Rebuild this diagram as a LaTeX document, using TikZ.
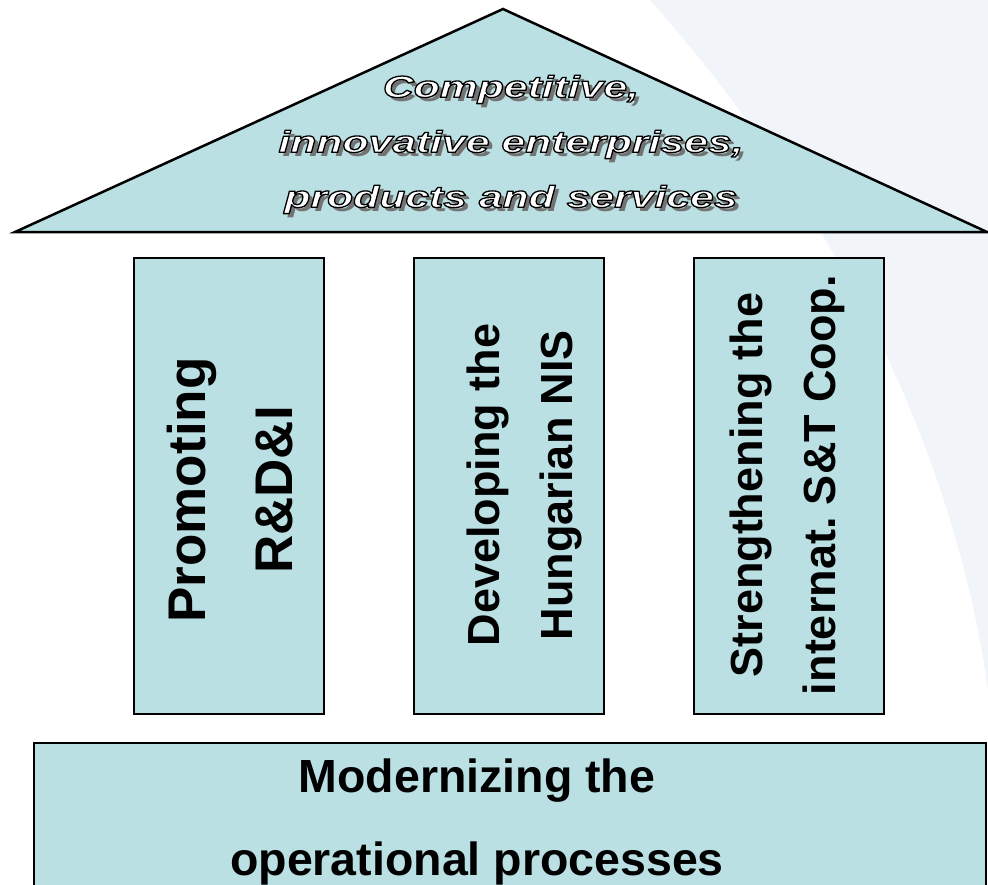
\documentclass[tikz,border=0pt]{standalone}
\usepackage{fontspec}
\setmainfont{Liberation Sans}
\newfontfamily\rooffont[FakeStretch=1.4]{Liberation Sans}
\usepackage{xcolor}
\usepackage{tikz}
\usetikzlibrary{positioning, calc}

\definecolor{pillarfill}{RGB}{186,224,227}
\definecolor{swoosh}{RGB}{241,245,249}
\definecolor{shadowgray}{RGB}{115,115,115}

% white letters with a black rim
\newcommand\outlined[1]{\special{pdf:literal direct 0 G 1 j 1.3 w 2 Tr}#1\special{pdf:literal direct 0 Tr 1 w 0 j}}

\begin{document}
\begin{tikzpicture}[x=1pt, y=-1pt]
\tikzstyle{pillar} = [rectangle, draw=black, line width=2pt, fill=pillarfill, minimum width=190pt, minimum height=456pt, inner sep=0pt]
\tikzstyle{pillartext} = [rotate=90, align=center, inner sep=0pt, font=\bfseries\fontsize{45}{73}\selectfont]
\tikzstyle{rooftext} = [align=center, anchor=north, inner sep=0pt, font=\rooffont\bfseries\itshape\fontsize{30.5}{55}\selectfont]
\tikzstyle{basetext} = [align=center, anchor=north, inner sep=0pt, font=\bfseries\fontsize{46.5}{83}\selectfont]

\useasboundingbox (0,0) rectangle (988,884);

% Background
\fill[swoosh] (650,0) .. controls (810,180) and (950,420) .. (988,690) -- (988,0) -- cycle;

% Roof
\coordinate (eaveL) at (15,232);
\coordinate (apex) at (503,9);
\coordinate (eaveR) at (987,232);
\draw[line width=2.5pt, fill=pillarfill] (eaveL) -- (apex) -- (eaveR) -- cycle;
\node[rooftext, text=shadowgray] (roofshadow) at (515,79) {Competitive,\\innovative enterprises,\\products and services};
\node[rooftext, text=white] (roof) at (511,75) {\outlined{Competitive,}\\\outlined{innovative enterprises,}\\\outlined{products and services}};

% Pillars
\node[pillar] (rdi) at (229,486) {};
\node[pillar] (nis) at (509,486) {};
\node[pillar] (coop) at (789,486) {};
\node[pillartext, font=\bfseries\fontsize{53}{87}\selectfont] (rditext) at (230,490) {Promoting\\R\&D\&I};
\node[pillartext] (nistext) at (524,485) {Developing the\\Hungarian NIS};
\node[pillartext] (cooptext) at (787,485) {Strengthening the\\internat.\ S\&T Coop.};

% Base
\node[pillar, minimum width=952pt, minimum height=200pt, anchor=north west] (base) at (33,742) {};
\node[basetext] (basetxt) at (477,759) {Modernizing the\\operational processes};
\end{tikzpicture}
\end{document}
